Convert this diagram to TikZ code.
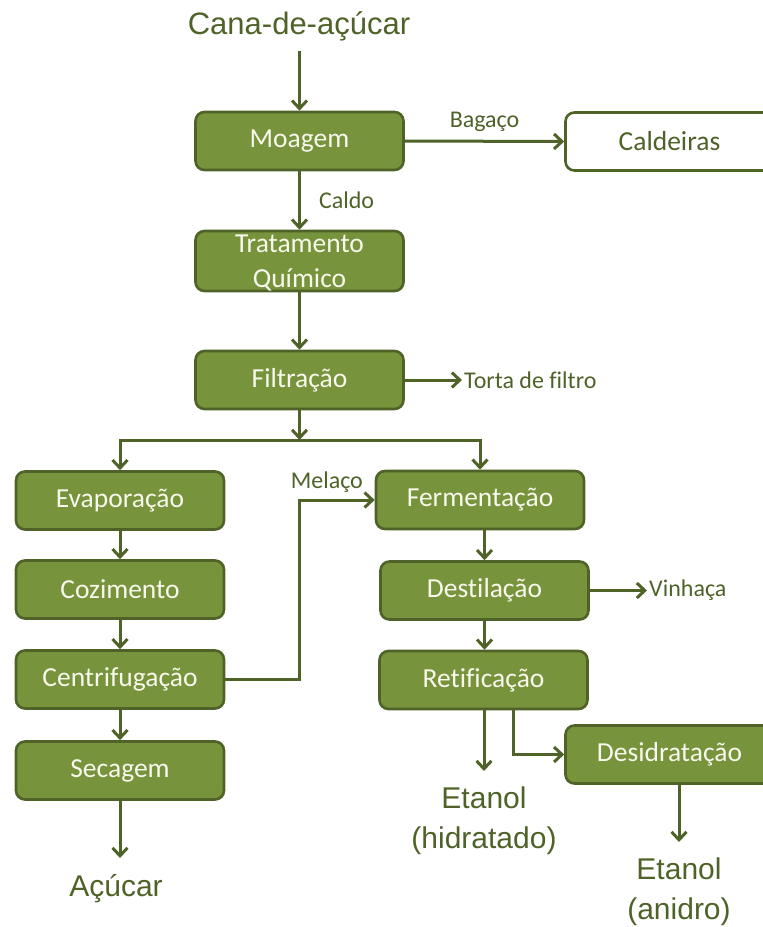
\documentclass[tikz,border=0pt]{standalone}
\usepackage{fontspec}
\setmainfont{Carlito}[Ligatures=CommonOff]
\newfontfamily\arialfont{Liberation Sans}
\usepackage{tikz}
\usetikzlibrary{arrows.meta}
\definecolor{olivefill}{HTML}{77933C}
\definecolor{olivedark}{HTML}{4F6228}
\definecolor{creamtext}{HTML}{F8F8EC}
\tikzset{
  procbox/.style={draw=olivedark, fill=olivefill, line width=2.6pt, rounded corners=9pt,
    minimum width=208pt, minimum height=58pt, inner sep=0pt, text=creamtext, align=center,
    font=\fontsize{27.5}{35}\selectfont},
  outbox/.style={procbox, fill=white, text=olivedark},
  flow/.style={draw=olivedark, line width=3pt},
  flowlabel/.style={text=olivedark, inner sep=2pt, font=\fontsize{24}{28}\selectfont},
  product/.style={text=olivedark, align=center, inner xsep=2pt, inner ysep=16pt, anchor=north,
    font=\arialfont\fontsize{30}{40}\selectfont},
}

\begin{document}
\begin{tikzpicture}[x=1pt, y=-1pt, >={Straight Barb[length=8pt,width=15pt]}]
    \useasboundingbox (0,0) rectangle (763,927);

    \node[product, anchor=base, inner ysep=10pt, font=\arialfont\fontsize{31}{40}\selectfont] (cana) at (299,34) {Cana-de-açúcar};
    \node[procbox] (moagem) at (299.5,141) {Moagem};
    \node[outbox] (caldeiras) at (669.5,141.5) {Caldeiras};
    \node[procbox, minimum height=60pt, text depth=0pt] (tratamento) at (299.5,261) {Tratamento\\Químico};
    \node[procbox] (filtracao) at (299.5,380) {Filtração};
    \node[flowlabel, anchor=west] (torta) at (462,380) {Torta de filtro};
    \coordinate (split) at (299.5,440);

    \node[procbox] (evaporacao) at (120,500.5) {Evaporação};
    \node[procbox] (cozimento) at (120,589.5) {Cozimento};
    \node[procbox] (centrifugacao) at (120,679.5) {Centrifugação};
    \node[procbox] (secagem) at (120,770.5) {Secagem};
    \node[product] (acucar) at (116,858) {Açúcar};

    \node[procbox] (fermentacao) at (480,500) {Fermentação};
    \node[procbox] (destilacao) at (484.5,590.5) {Destilação};
    \node[flowlabel, anchor=west] (vinhaca) at (647,590.5) {Vinhaça};
    \node[procbox] (retificacao) at (483.5,680) {Retificação};
    \node[procbox] (desidratacao) at (669.5,754.5) {Desidratação};
    \node[product] (hidratado) at (484,771) {Etanol\\(hidratado)};
    \node[product] (anidro) at (679,842) {Etanol\\(anidro)};

    \draw[flow, ->] (cana.south -| moagem.north) -- (moagem.north);
    \draw[flow, ->] (moagem.east) -- node[flowlabel, above=6pt] {Bagaço} (caldeiras.west);
    \draw[flow, ->] (moagem.south) -- node[flowlabel, right=16pt] {Caldo} (tratamento.north);
    \draw[flow, ->] (tratamento.south) -- (filtracao.north);
    \draw[flow, ->] (filtracao.east) -- (torta.west);
    \draw[flow, ->] (filtracao.south) -- (split);
    \draw[flow, <->] (evaporacao.north) |- (split) -| (fermentacao.north);

    \draw[flow, ->] (evaporacao) -- (cozimento);
    \draw[flow, ->] (cozimento) -- (centrifugacao);
    \draw[flow, ->] (centrifugacao) -- (secagem);
    \draw[flow, ->] (secagem.south) -- (secagem.south |- acucar.north);
    \draw[flow, ->] (centrifugacao.east) -- ++(74,0) |- node[flowlabel, pos=.5, anchor=south west, xshift=-12pt, yshift=4pt] {Melaço} (fermentacao.west);

    \draw[flow, ->] (fermentacao.south -| destilacao.north) -- (destilacao.north);
    \draw[flow, ->] (destilacao.east) -- (vinhaca.west);
    \draw[flow, ->] (destilacao.south) -- (destilacao.south |- retificacao.north);
    \draw[flow, ->] (retificacao.south -| hidratado.north) -- (hidratado.north);
    \draw[flow, ->] ([xshift=29.5pt]retificacao.south) |- (desidratacao.west);
    \draw[flow, ->] (desidratacao.south -| anidro.north) -- (anidro.north);

  \end{tikzpicture}
\end{document}
